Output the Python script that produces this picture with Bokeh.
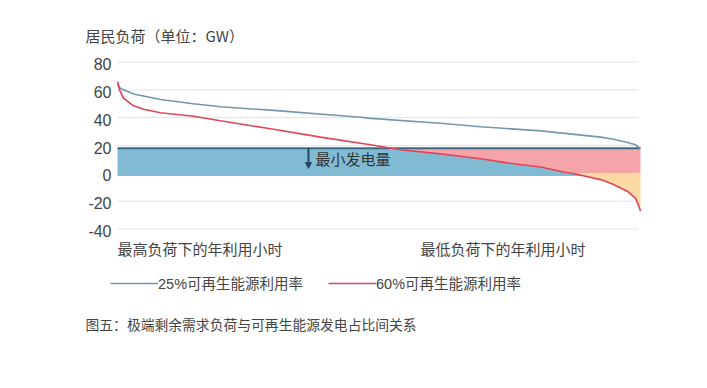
import numpy as np
from bokeh.plotting import figure
from bokeh.models import Range1d, Label, Legend, LegendItem, Arrow, NormalHead
from bokeh.embed import file_html
from bokeh.resources import INLINE

# ---- data ----
hours_25 = [0, 50, 270, 720, 1270, 1730, 2560, 4070, 4240, 5410, 6080, 7090, 8090, 8310, 8510, 8680, 8760]
load_25 = [64, 61, 57, 53, 50, 47.8, 45.4, 40.3, 39.5, 36, 33.5, 30.5, 26, 24.5, 22.5, 20.5, 18]

hours_60 = [0, 34, 100, 268, 435, 720, 1273, 1725, 2563, 3400, 4238, 4740, 5410, 6080, 6533,
            7085, 7470, 7672, 8090, 8308, 8543, 8677, 8727, 8760]
load_60 = [66, 60, 54, 48.5, 46, 43.5, 41, 37.8, 32, 26, 20.5, 17, 14, 10.5, 7.5,
           4.5, 1, -0.5, -4.5, -8, -13, -18, -23, -27]

min_gen = 18          # minimum generation level (GW)
band_bottom = -2      # lower edge of the minimum-generation band
y_ticks = [-40, -20, 0, 20, 40, 60, 80]
y_tick_labels = ["-40", "-20", "0", "20", "40", "60", "80"]

title_text = "居民负荷（单位：GW）"
annot_text = "最小发电量"
left_label = "最高负荷下的年利用小时"
right_label = "最低负荷下的年利用小时"
legend_25 = "25%可再生能源利用率"
legend_60 = "60%可再生能源利用率"
caption = "图五：极端剩余需求负荷与可再生能源发电占比间关系"

# ---- layout: the plotting frame covers the whole canvas ----
W, H = 699, 380
PX_START, PX_END = 117.0, 640.0       # pixel x of hour 0 and of hour 8760
PY_TOP, PY_BOT = 61.5, 228.5          # pixel y of tick 80 and of tick -40
X_START, X_END = 0.0, 8760.0

def dx(px):  # canvas pixel x -> data x
    return X_START + (px - PX_START) / (PX_END - PX_START) * (X_END - X_START)

def dy(py):  # canvas pixel y -> data y
    return y_ticks[-1] - (py - PY_TOP) / (PY_BOT - PY_TOP) * (y_ticks[-1] - y_ticks[0])

p = figure(width=W, height=H, x_range=Range1d(dx(0), dx(W)), y_range=Range1d(dy(H), dy(0)),
           output_backend="svg", toolbar_location=None,
           x_axis_location=None, y_axis_location=None,
           min_border=0, min_border_left=0, min_border_right=0,
           min_border_top=0, min_border_bottom=0)
p.outline_line_color = None
p.xgrid.visible = False
p.ygrid.visible = False
p.background_fill_color = "white"

# grid lines
p.segment(x0=X_START, x1=X_END - 40, y0=y_ticks, y1=y_ticks, line_color="#e3e3e3", line_width=1)

# tick labels
p.text(x=dx(111), y=y_ticks, text=y_tick_labels, text_align="right", text_baseline="middle",
       y_offset=2, text_font={"value": "Liberation Sans"}, text_font_size="16px", text_color="#444444")

h60 = np.array(hours_60, dtype=float)
r60 = np.array(load_60, dtype=float)

# fills
p.varea(x=h60, y1=band_bottom, y2=np.clip(r60, band_bottom, min_gen), fill_color="#80bbd3")
p.varea(x=h60, y1=np.clip(r60, 0, min_gen), y2=min_gen, fill_color="#f5a4a9")
p.varea(x=h60, y1=np.minimum(r60, 0), y2=0, fill_color="#fbd9a3")

p.segment(x0=X_START, x1=X_END, y0=min_gen, y1=min_gen, line_color="#3a6a88", line_width=2)

l25 = p.line(hours_25, load_25, line_color="#7497ad", line_width=1.6)
l60 = p.line(hours_60, load_60, line_color="#e2445a", line_width=1.6)

# arrow + annotation
p.add_layout(Arrow(end=NormalHead(size=6, fill_color="#1f4a66", line_color="#1f4a66"),
                   x_start=dx(308), y_start=min_gen, x_end=dx(308), y_end=dy(168),
                   line_color="#1f4a66", line_width=2))
p.add_layout(Label(x=dx(315), y=dy(158), text=annot_text, text_font="Noto Sans CJK SC",
                   text_font_size="15px", text_color="#333333", text_baseline="middle"))

# texts around the plot
p.add_layout(Label(x=dx(85), y=dy(35), text=title_text, text_font="Noto Sans CJK SC",
                   text_font_size="15px", text_color="#444444", text_baseline="middle"))
p.add_layout(Label(x=dx(117), y=dy(248), text=left_label, text_font="Noto Sans CJK SC",
                   text_font_size="15px", text_color="#444444", text_baseline="middle"))
p.add_layout(Label(x=dx(420), y=dy(248), text=right_label, text_font="Noto Sans CJK SC",
                   text_font_size="15px", text_color="#444444", text_baseline="middle"))
p.add_layout(Label(x=dx(85), y=dy(323), text=caption, text_font="Noto Sans CJK SC",
                   text_font_size="13.8px", text_color="#444444", text_baseline="middle"))

legend = Legend(items=[LegendItem(label=legend_25, renderers=[l25]),
                       LegendItem(label=legend_60, renderers=[l60])],
                orientation="horizontal", location=(110, H - 293),
                glyph_width=48, glyph_height=20, label_height=20, label_standoff=0, spacing=25,
                padding=0, margin=0, border_line_color=None, background_fill_alpha=0,
                label_text_font="Liberation Sans, Noto Sans CJK SC",
                label_text_font_size="14.5px", label_text_color="#444444")
p.add_layout(legend, "center")

open("out.html", "w").write(file_html(p, INLINE))
